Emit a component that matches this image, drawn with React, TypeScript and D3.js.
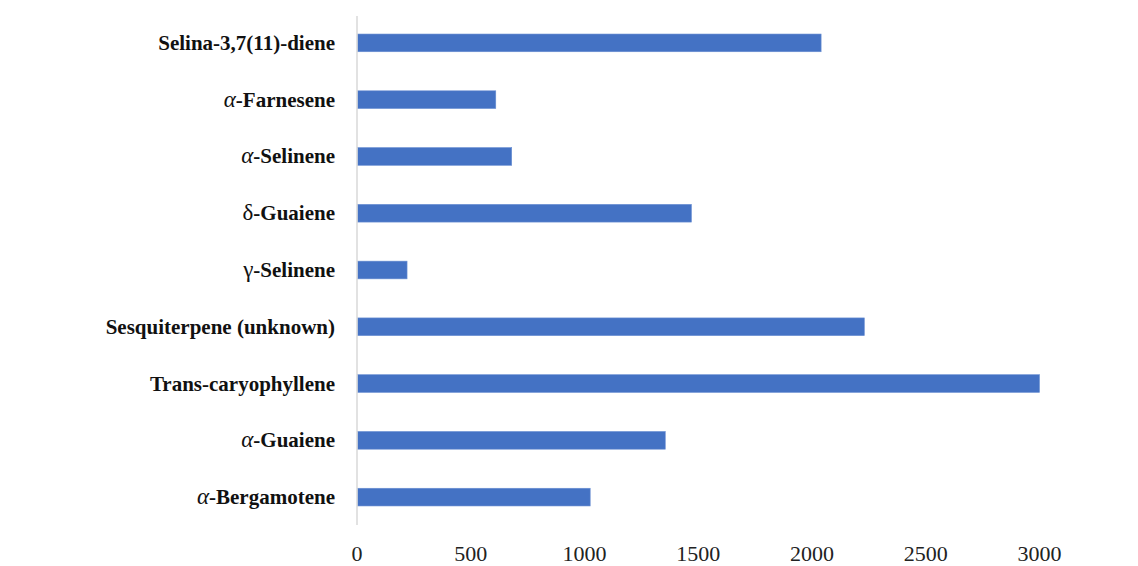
import React from "react";
import * as d3 from "d3";

const categories = [
  "Selina-3,7(11)-diene",
  "α-Farnesene",
  "α-Selinene",
  "δ-Guaiene",
  "γ-Selinene",
  "Sesquiterpene (unknown)",
  "Trans-caryophyllene",
  "α-Guaiene",
  "α-Bergamotene",
];
const values = [2040, 610, 680, 1470, 220, 2230, 3000, 1355, 1025];
const xTicks = [0, 500, 1000, 1500, 2000, 2500, 3000];

const W = 1138;
const H = 566;

export default function App() {
  const x = d3.scaleLinear().domain([0, 3500]).range([357, 1153.25]);
  const y = d3
    .scaleBand<string>()
    .domain(categories)
    .range([14.5, 525.5])
    .paddingInner(0.688)
    .paddingOuter(0.344);
  const bw = y.bandwidth();
  const greek = /^[αβγδ]/;
  return (
    <svg
      width={W}
      height={H}
      style={{ position: "absolute", left: 0, top: 0, background: "#fff" }}
    >
      {categories.map((c, i) => (
        <rect
          key={c}
          x={x(0) + 0.5}
          y={y(c)!}
          width={x(values[i]) - x(0) - 0.5}
          height={bw}
          fill="#4472C4"
          stroke="#6a8fd2"
          strokeWidth={0.6}
        />
      ))}
      <line x1={x(0)} x2={x(0)} y1={16} y2={525} stroke="#d9d9d9" strokeWidth={1.5} />
      {categories.map((c) => {
        const cy = y(c)! + bw / 2;
        const g = greek.test(c);
        const first = g ? c[0] : "";
        const rest = g ? c.slice(1) : c;
        return (
          <text
            key={"l" + c}
            x={335}
            y={cy + 7}
            textAnchor="end"
            fontFamily="'Liberation Serif', serif"
            fontWeight="bold"
            fontSize={21}
            fill="#111"
          >
            {g && (
              <tspan
                fontWeight="normal"
                fontSize={23}
                fontStyle={first === "α" ? "italic" : "normal"}
              >
                {first}
              </tspan>
            )}
            <tspan>{rest}</tspan>
          </text>
        );
      })}
      {xTicks.map((t) => (
        <text
          key={"t" + t}
          x={x(t)}
          y={561}
          textAnchor="middle"
          fontFamily="'Liberation Serif', serif"
          fontSize={22}
          fill="#222"
        >
          {t}
        </text>
      ))}
    </svg>
  );
}
